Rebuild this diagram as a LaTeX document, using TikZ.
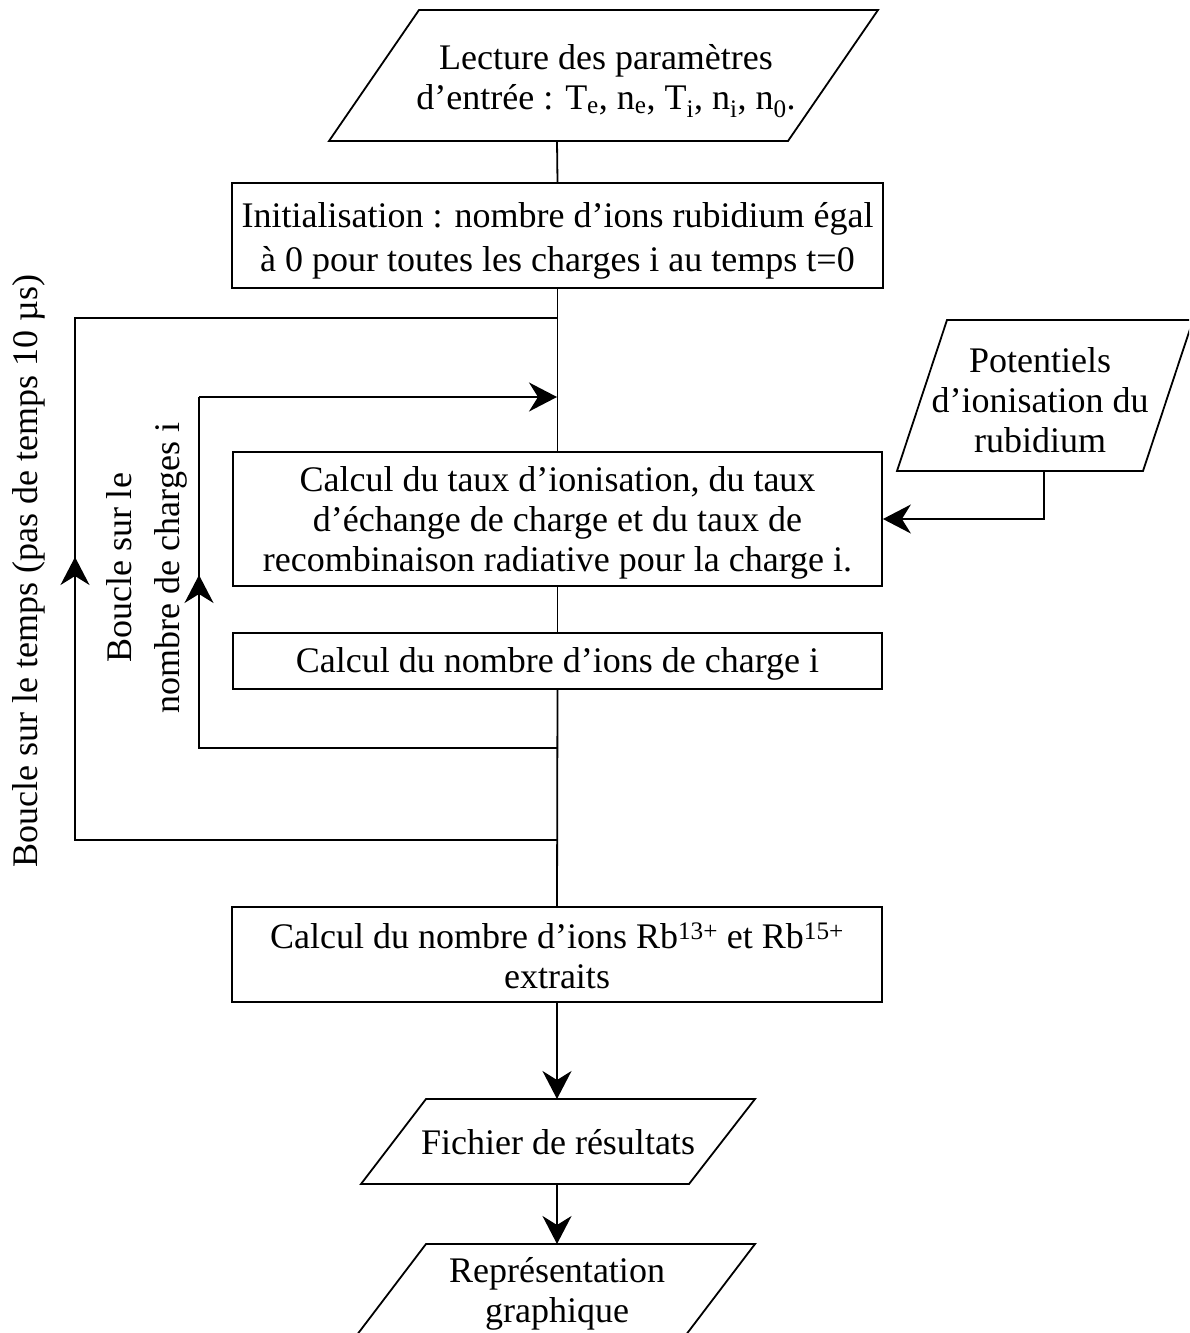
\documentclass[tikz,border=0pt]{standalone}
\usepackage{fontspec}
\setmainfont{Liberation Serif}
\usetikzlibrary{arrows.meta}
\begin{document}
\begin{tikzpicture}[x=1pt,y=-1pt,
  box/.style={draw,line width=1.8pt,inner sep=0pt},
  shp/.style={draw,line width=1.8pt},
  ln/.style={line width=1.8pt},
  arr/.style={line width=1.8pt,-{Stealth[length=28pt,width=29pt,inset=9pt]}},
  txt/.style={align=center,inner sep=0pt,font=\fontsize{36}{40}\selectfont}]
\useasboundingbox (0,0) rectangle (1189,1333);
\clip (0,0) rectangle (1189,1333);

% input parallelogram
\draw[shp] (419,10) -- (878,10) -- (788,141) -- (329,141) -- cycle;
\node[txt] (lect) at (606,81) {Lecture des paramètres\\d’entrée : T\textsubscript{e}, n\textsubscript{e}, T\textsubscript{i}, n\textsubscript{i}, n\textsubscript{0}.};
\coordinate (lectS) at (557,141);

% process boxes
\node[box,minimum width=651pt,minimum height=105pt] (init) at (557.5,235.5) {};
\node[txt,font=\fontsize{36}{44}\selectfont] (initT) at (557.5,240.5)
  {Initialisation : nombre d’ions rubidium égal\\à 0 pour toutes les charges i au temps t=0};
\node[box,minimum width=649pt,minimum height=134pt] (taux) at (557.5,519) {};
\node[txt] (tauxT) at (557.5,523)
  {Calcul du taux d’ionisation, du taux\\d’échange de charge et du taux de\\recombinaison radiative pour la charge i.};
\node[box,minimum width=649pt,minimum height=56pt] (nomb) at (557.5,661) {};
\node[txt] (nombT) at (557.5,664) {Calcul du nombre d’ions de charge i};
\node[box,minimum width=650pt,minimum height=95pt] (rb) at (557,954.5) {};
\node[txt] (rbT) at (557,955.5)
  {Calcul du nombre d’ions Rb\textsuperscript{13+} et Rb\textsuperscript{15+}\\extraits};

% potentiels parallelogram
\draw[shp] (947,320) -- (1193,320) -- (1143,471) -- (897,471) -- cycle;
\node[txt] (pot) at (1040,400) {Potentiels\\d’ionisation du\\rubidium};
\coordinate (potS) at (1044,471);

% output parallelograms
\draw[shp] (426,1099) -- (755,1099) -- (689,1184) -- (361,1184) -- cycle;
\node[txt] (fich) at (558,1142) {Fichier de résultats};
\coordinate (fichN) at (557,1099);
\coordinate (fichS) at (557,1184);

\draw[shp] (426,1244) -- (755,1244) -- (676,1348) -- (347,1348) -- cycle;
\node[txt] (repr) at (557,1294) {Représentation\\graphique};
\coordinate (reprN) at (557,1244);

% main flow
\draw[ln] (lectS) -- (init.north);
\draw[ln] (init.south) -- (taux.north);
\draw[ln] (taux.south) -- (nomb.north);
\draw[ln] (nomb.south) -- (rb.north);
\draw[arr] (rb.south) -- (fichN);
\draw[arr] (fichS) -- (reprN);
\draw[arr] (potS) |- (taux.east);

% loops
\coordinate (tA) at (557,318);
\coordinate (tB) at (557,840);
\coordinate (tL1) at (75,840);
\coordinate (tL2) at (75,318);
\coordinate (tMid) at (75,557);
\coordinate (cA) at (557,397);
\coordinate (cB) at (557,748);
\coordinate (cL1) at (199,748);
\coordinate (cL2) at (199,397);
\coordinate (cMid) at (199,575);

\draw[ln] (tB) -- (tL1) -- (tL2) -- (tA);
\draw[arr] (tL1) -- (tMid);
\draw[ln] (cB) -- (cL1) -- (cL2);
\draw[arr] (cL2) -- (cA);
\draw[arr] (cL1) -- (cMid);

% loop labels
\node[txt,rotate=90] (tlab) at (29,571) {Boucle sur le temps (pas de temps 10 µs)};
\node[txt,rotate=90,font=\fontsize{36}{48}\selectfont] (clab) at (147,568) {Boucle sur le\\nombre de charges i};
\end{tikzpicture}
\end{document}
